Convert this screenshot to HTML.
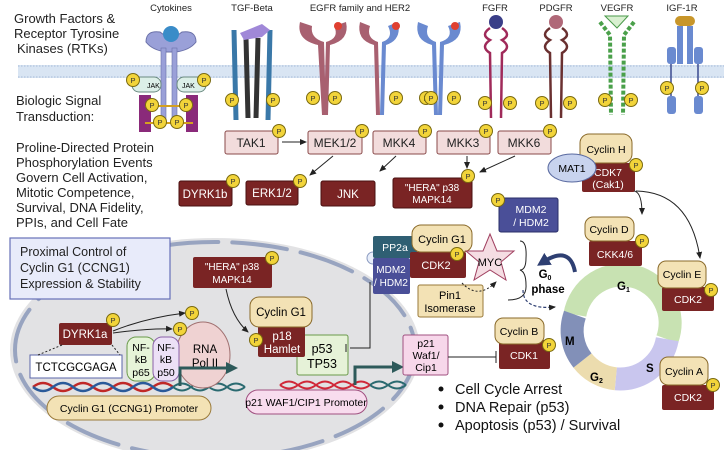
<!DOCTYPE html><html><head><meta charset="utf-8"><style>body{margin:0;background:#fff}svg{display:block}text{font-family:"Liberation Sans",sans-serif}</style></head><body>
<svg width="724" height="450" viewBox="0 0 724 450" xmlns="http://www.w3.org/2000/svg">
<defs>
<marker id="a" markerUnits="userSpaceOnUse" markerWidth="8" markerHeight="8" refX="6" refY="4" orient="auto"><path d="M0,1 L7,4 L0,7z" fill="#222"/></marker>
<marker id="t" markerUnits="userSpaceOnUse" markerWidth="14" markerHeight="14" refX="6" refY="7" orient="auto"><path d="M0,1 L12,7 L0,13z" fill="#2d5a5a"/></marker>
<marker id="n" markerUnits="userSpaceOnUse" markerWidth="14" markerHeight="14" refX="6" refY="7" orient="auto"><path d="M0,0 L13,7 L0,14z" fill="#2e3f72"/></marker>
<g id="P"><circle r="6.5" fill="#f2d43a" stroke="#7a6a10" stroke-width="1"/><text y="3" font-size="7.5" text-anchor="middle" fill="#333">P</text></g>
</defs>
<rect x="18" y="65" width="706" height="13" fill="#d9e5f3"/>
<line x1="18" y1="66" x2="724" y2="66" stroke="#a8bcd8" stroke-dasharray="1.5 1.5"/>
<line x1="18" y1="77" x2="724" y2="77" stroke="#a8bcd8" stroke-dasharray="1.5 1.5"/>
<g font-size="13" fill="#222">
<text x="14" y="23">Growth Factors &amp;</text><text x="14" y="38">Receptor Tyrosine</text><text x="17" y="53">Kinases (RTKs)</text>
<text x="16" y="105">Biologic Signal</text><text x="16" y="121">Transduction:</text>
<text x="16" y="152">Proline-Directed Protein</text><text x="16" y="167">Phosphorylation Events</text><text x="16" y="182">Govern Cell Activation,</text><text x="16" y="197">Mitotic Competence,</text><text x="16" y="212">Survival, DNA Fidelity,</text><text x="16" y="227">PPIs, and Cell Fate</text>
</g>
<g font-size="9.5" fill="#222" text-anchor="middle">
<text x="171" y="11">Cytokines</text><text x="252" y="11">TGF-Beta</text><text x="360" y="11">EGFR family and HER2</text><text x="495" y="11">FGFR</text><text x="556" y="11">PDGFR</text><text x="617" y="11">VEGFR</text><text x="682" y="11">IGF-1R</text>
</g>
<path d="M146,42 Q146,30 160,32 L171,40 L182,32 Q196,30 196,42 Q190,50 176,52 L166,52 Q152,50 146,42z" fill="#9aa0d8" stroke="#6a70a8"/>
<rect x="161" y="48" width="5" height="75" fill="#9aa0d8" stroke="#6a70a8" stroke-width=".6"/><rect x="172" y="48" width="5" height="75" fill="#9aa0d8" stroke="#6a70a8" stroke-width=".6"/>
<circle cx="171" cy="34" r="8" fill="#3a8cc8"/>
<rect x="132" y="77" width="29" height="15" rx="7" fill="#dcefe8" stroke="#6a8a80"/><text x="147" y="88" font-size="7">JAK</text>
<rect x="177" y="77" width="29" height="15" rx="7" fill="#dcefe8" stroke="#6a8a80"/><text x="182" y="88" font-size="7">JAK</text>
<rect x="139" y="95" width="12" height="37" fill="#8a2a7a"/><rect x="186" y="95" width="12" height="37" fill="#8a2a7a"/>
<rect x="145" y="105" width="48" height="2" fill="#d4a020"/><rect x="145" y="122" width="48" height="2" fill="#d4a020"/>
<use href="#P" x="133" y="80"/><use href="#P" x="204" y="80"/><use href="#P" x="152" y="105"/><use href="#P" x="186" y="105"/><use href="#P" x="160" y="122"/><use href="#P" x="177" y="122"/>
<path d="M234,30 L236,120 M270,30 L268,120" stroke="#3a78a8" stroke-width="5" fill="none"/>
<path d="M246,38 L248,118 M258,38 L256,118" stroke="#333" stroke-width="5" fill="none"/>
<path d="M240,33 L262,24 L270,30 L262,37 L244,40z" fill="#a088d8"/>
<use href="#P" x="232" y="100"/><use href="#P" x="273" y="100"/>
<g fill="#a86070"><path d="M300,22 Q296,40 318,45 L322,115 L326,115 L324,42 Q310,38 312,26z"/><path d="M346,22 Q350,40 330,45 L328,115 L324,115 L326,42 Q340,38 334,26z"/></g>
<circle cx="338" cy="26" r="4" fill="#e04030"/>
<g fill="#a86070"><path d="M360,22 Q356,40 374,45 L376,115 L380,115 L378,42 Q366,38 370,26z"/></g>
<g fill="#6a8ad0"><path d="M398,22 Q402,40 386,45 L384,115 L380,115 L382,42 Q394,38 388,26z"/><path d="M418,22 Q414,40 432,45 L434,115 L438,115 L436,42 Q424,38 428,26z"/><path d="M460,22 Q464,40 444,45 L442,115 L438,115 L440,42 Q454,38 448,26z"/></g>
<circle cx="396" cy="26" r="4" fill="#e04030"/><circle cx="455" cy="26" r="4" fill="#e04030"/>
<use href="#P" x="313" y="98"/><use href="#P" x="335" y="98"/><use href="#P" x="396" y="98"/><use href="#P" x="426" y="98"/><use href="#P" x="431" y="98"/><use href="#P" x="454" y="98"/>
<circle cx="496" cy="22" r="7" fill="#3a3e88"/>
<path d="M490,28 Q480,35 490,40 Q480,47 490,53 L491,118 M502,28 Q512,35 502,40 Q512,47 502,53 L501,118" stroke="#a02a5a" stroke-width="2.5" fill="none"/>
<use href="#P" x="485" y="103"/><use href="#P" x="510" y="103"/>
<circle cx="556" cy="22" r="7" fill="#b06878"/>
<path d="M550,28 Q540,35 550,40 Q540,47 550,53 L551,118 M562,28 Q572,35 562,40 Q572,47 562,53 L561,118" stroke="#6a3030" stroke-width="2.5" fill="none"/>
<use href="#P" x="542" y="103"/><use href="#P" x="570" y="103"/>
<path d="M605,16 L628,16 L617,28z" fill="#d8f0d0" stroke="#4a9a4a"/>
<path d="M600,22 L610,35 L611,115 M634,22 L624,35 L623,115" stroke="#4aa04a" stroke-width="4" stroke-dasharray="4 2" fill="none"/>
<use href="#P" x="605" y="100"/><use href="#P" x="631" y="100"/>
<rect x="675" y="16" width="20" height="10" rx="5" fill="#c8962a"/>
<rect x="677" y="26" width="6" height="38" fill="#6a8ad0"/><rect x="687" y="26" width="6" height="38" fill="#6a8ad0"/>
<rect x="667" y="47" width="9" height="17" rx="3" fill="#6a8ad0"/><rect x="694" y="47" width="9" height="17" rx="3" fill="#6a8ad0"/>
<path d="M671,64 L671,98 M698,64 L698,98" stroke="#3a4a90" stroke-width="1.5"/>
<rect x="667" y="96" width="9" height="18" rx="3" fill="#6a8ad0"/><rect x="694" y="96" width="9" height="18" rx="3" fill="#6a8ad0"/>
<use href="#P" x="667" y="88"/><use href="#P" x="702" y="88"/>
<g fill="#f2dcdc" stroke="#8a4a4a"><rect x="225" y="131" width="53" height="23" rx="2"/><rect x="308" y="131" width="54" height="23" rx="2"/><rect x="373" y="131" width="53" height="23" rx="2"/><rect x="437" y="131" width="53" height="23" rx="2"/><rect x="498" y="131" width="53" height="23" rx="2"/></g>
<g font-size="12" fill="#222" text-anchor="middle"><text x="251" y="147">TAK1</text><text x="335" y="147">MEK1/2</text><text x="399" y="147">MKK4</text><text x="463" y="147">MKK3</text><text x="524" y="147">MKK6</text></g>
<use href="#P" x="279" y="131"/><use href="#P" x="362" y="131"/><use href="#P" x="425" y="131"/><use href="#P" x="486" y="131"/><use href="#P" x="550" y="131"/>
<g stroke="#222" fill="none" marker-end="url(#a)" stroke-width="1"><line x1="282" y1="142" x2="306" y2="142"/><line x1="333" y1="156" x2="310" y2="175"/><line x1="396" y1="156" x2="380" y2="171"/><line x1="467" y1="156" x2="467" y2="168"/><line x1="515" y1="156" x2="480" y2="172"/></g>
<g fill="#7a2424" stroke="#4a1010"><rect x="179" y="181" width="53" height="25" rx="2"/><rect x="246" y="181" width="52" height="24" rx="2"/><rect x="321" y="181" width="54" height="25" rx="2"/><rect x="393" y="178" width="79" height="30" rx="2"/></g>
<g font-size="11.5" fill="#fff" text-anchor="middle"><text x="205" y="198">DYRK1b</text><text x="272" y="197">ERK1/2</text><text x="348" y="198">JNK</text><text x="432" y="191" font-size="10">"HERA" p38</text><text x="432" y="203" font-size="10">MAPK14</text></g>
<use href="#P" x="233" y="181"/><use href="#P" x="300" y="181"/><use href="#P" x="468" y="176"/>
<rect x="499" y="198" width="59" height="34" rx="2" fill="#4a4f98" stroke="#2a2f68"/><text x="531" y="213" font-size="10.5" fill="#fff" text-anchor="middle">MDM2</text><text x="531" y="226" font-size="10.5" fill="#fff" text-anchor="middle">/ HDM2</text><use href="#P" x="498" y="200"/>
<rect x="582" y="163" width="53" height="29" rx="2" fill="#7a2424"/><text x="608" y="176" font-size="10.5" fill="#fff" text-anchor="middle">CDK7</text><text x="608" y="188" font-size="10.5" fill="#fff" text-anchor="middle">(Cak1)</text>
<rect x="580" y="134" width="52" height="29" rx="9" fill="#f3e2b5" stroke="#8a6a2a"/><text x="606" y="153" font-size="10.5" text-anchor="middle">Cyclin H</text>
<ellipse cx="572" cy="168" rx="24" ry="14" fill="#c8d3ee" stroke="#5a6aa0"/><text x="572" y="172" font-size="10.5" text-anchor="middle">MAT1</text>
<use href="#P" x="636" y="165"/>
<path d="M634,191 Q642,192 642,214" stroke="#222" fill="none" marker-end="url(#a)"/>
<path d="M636,191 Q690,192 700,258" stroke="#222" fill="none" marker-end="url(#a)"/>
<ellipse cx="215" cy="350" rx="205" ry="112" fill="#e2e2e4"/>
<ellipse cx="215" cy="350" rx="200" ry="108" fill="none" stroke="#98a4c0" stroke-width="4" stroke-dasharray="55 14" stroke-linecap="round"/>
<rect x="10" y="238" width="160" height="61" fill="#e8ebfa" stroke="#6670b8" stroke-width="1.2"/>
<g font-size="12.5" fill="#222"><text x="20" y="256">Proximal Control of</text><text x="20" y="272">Cyclin G1 (CCNG1)</text><text x="20" y="288">Expression &amp; Stability</text></g>
<rect x="193" y="257" width="79" height="31" rx="2" fill="#7a2424"/><text x="232" y="270" font-size="10" fill="#fff" text-anchor="middle">"HERA" p38</text><text x="232" y="283" font-size="10" fill="#fff" text-anchor="middle">MAPK14</text><use href="#P" x="272" y="258"/>
<path d="M226,289 Q232,318 248,332" stroke="#222" fill="none" marker-end="url(#a)"/>
<path d="M33,387 q10,-8 20,0 t20,0 t20,0 t20,0 t20,0 t20,0 t20,0" stroke="#c02828" stroke-width="2.5" fill="none"/>
<path d="M33,387 q10,8 20,0 t20,0 t20,0 t20,0 t20,0 t20,0 t20,0" stroke="#2a5a9a" stroke-width="2.5" fill="none"/>
<path d="M173,387 q9,-7 18,0 t18,0 t18,0 t18,0 M173,387 q9,7 18,0 t18,0 t18,0 t18,0" stroke="#2a6a70" stroke-width="2" fill="none"/>
<path d="M280,385 q9,-7 18,0 t18,0 t18,0 t18,0 t18,0 M280,385 q9,7 18,0 t18,0 t18,0 t18,0 t18,0" stroke="#d02838" stroke-width="2" fill="none"/>
<path d="M370,385 q9,-7 18,0 t18,0 M370,385 q9,7 18,0 t18,0" stroke="#2a6a70" stroke-width="2" fill="none"/>
<rect x="47" y="396" width="164" height="24" rx="12" fill="#f3e2b5" stroke="#9a7a3a"/><text x="129" y="412" font-size="10.5" text-anchor="middle">Cyclin G1 (CCNG1) Promoter</text>
<rect x="246" y="390" width="121" height="24" rx="12" fill="#f8dcee" stroke="#a05080"/><text x="306" y="406" font-size="10.5" text-anchor="middle">p21 WAF1/CIP1 Promoter</text>
<ellipse cx="203" cy="355" rx="27" ry="33" fill="#efd2d2" stroke="#a07070"/><text x="205" y="353" font-size="11.5" text-anchor="middle">RNA</text><text x="205" y="367" font-size="11.5" text-anchor="middle">Pol II</text>
<rect x="127" y="337" width="28" height="44" rx="9" fill="#e6f4d8" stroke="#6a9a4a"/><rect x="153" y="337" width="26" height="44" rx="9" fill="#ece0f6" stroke="#8a60a8"/>
<g font-size="10.5" text-anchor="middle"><text x="141" y="351">NF-</text><text x="141" y="363">kB</text><text x="141" y="376">p65</text><text x="166" y="351">NF-</text><text x="166" y="363">kB</text><text x="166" y="376">p50</text></g>
<path d="M180,386 L180,368 L232,368" stroke="#2d5a5a" stroke-width="3" fill="none" marker-end="url(#t)"/>
<rect x="30" y="355" width="92" height="23" fill="#fff" stroke="#5a64a8"/><text x="76" y="371" font-size="11.5" text-anchor="middle">TCTCGCGAGA</text>
<rect x="59" y="323" width="53" height="22" rx="2" fill="#7a2424"/><text x="85" y="338" font-size="11.5" fill="#fff" text-anchor="middle">DYRK1a</text><use href="#P" x="113" y="320"/>
<path d="M62,345 L38,355 M112,345 L120,355" stroke="#222" stroke-dasharray="2 2"/>
<path d="M113,331 Q145,318 185,313" stroke="#222" fill="none" marker-end="url(#a)"/><path d="M113,333 Q150,328 172,329" stroke="#222" fill="none" marker-end="url(#a)"/>
<use href="#P" x="192" y="313"/><use href="#P" x="180" y="329"/>
<rect x="297" y="335" width="51" height="40" rx="2" fill="#e6f2d8" stroke="#6a9a4a"/><text x="322" y="353" font-size="12.5" text-anchor="middle">p53</text><text x="322" y="368" font-size="12.5" text-anchor="middle">TP53</text>
<rect x="258" y="326" width="47" height="31" rx="2" fill="#7a2424"/><text x="282" y="340" font-size="11.5" fill="#fff" text-anchor="middle">p18</text><text x="282" y="353" font-size="11.5" fill="#fff" text-anchor="middle">Hamlet</text>
<rect x="250" y="297" width="62" height="30" rx="9" fill="#f3e2b5" stroke="#8a6a2a"/><text x="281" y="316" font-size="11.5" text-anchor="middle">Cyclin G1</text>
<use href="#P" x="256" y="340"/>
<path d="M355,385 L355,367 L398,367" stroke="#2d5a5a" stroke-width="3" fill="none" marker-end="url(#t)"/>
<path d="M350,348 L370,348 L370,282" stroke="#222" fill="none"/><line x1="346" y1="344" x2="346" y2="352" stroke="#222"/>
<circle cx="373" cy="258" r="6" fill="#e8eefa" stroke="#8a9ac0"/>
<rect x="373" y="258" width="37" height="36" rx="2" fill="#4a4f98"/><text x="391" y="273" font-size="10" fill="#fff" text-anchor="middle">MDM2</text><text x="391" y="286" font-size="10" fill="#fff" text-anchor="middle">/ HDM2</text>
<rect x="373" y="236" width="44" height="22" rx="2" fill="#2f5f73"/><text x="395" y="251" font-size="10.5" fill="#fff" text-anchor="middle">PP2a</text>
<rect x="410" y="252" width="56" height="26" rx="2" fill="#7a2424"/><text x="436" y="269" font-size="11" fill="#fff" text-anchor="middle">CDK2</text>
<rect x="412" y="225" width="60" height="27" rx="9" fill="#f3e2b5" stroke="#8a6a2a"/><text x="442" y="243" font-size="11" text-anchor="middle">Cyclin G1</text>
<path d="M490,234 L497,251 L514,251 L501,262 L506,280 L490,270 L474,280 L479,262 L466,251 L483,251z" fill="#f5dde3" stroke="#a04060"/>
<use href="#P" x="457" y="254"/>
<text x="490" y="266" font-size="11" text-anchor="middle">MYC</text>
<rect x="418" y="285" width="65" height="32" rx="2" fill="#f3e2b5" stroke="#9a7a3a"/><text x="450" y="299" font-size="11" text-anchor="middle">Pin1</text><text x="450" y="312" font-size="11" text-anchor="middle">Isomerase</text>
<path d="M462,283 Q478,300 496,282" stroke="#222" fill="none" stroke-dasharray="2 2" marker-end="url(#a)"/>
<path d="M520,241 Q527,241 526,258 Q526,270 520,270 Q526,272 526,285 Q527,300 508,300" stroke="#222" fill="none"/>
<text x="545" y="278" font-size="11.5" font-weight="bold" text-anchor="middle">G<tspan font-size="7" dy="2">0</tspan></text>
<text x="548" y="293" font-size="11.5" font-weight="bold" text-anchor="middle">phase</text>
<path d="M575,272 Q570,245 543,262" stroke="#2e3f72" stroke-width="4" fill="none" marker-end="url(#n)"/>
<path d="M523,290 Q523,310 555,307" stroke="#2e3f72" stroke-width="1.2" fill="none" stroke-dasharray="3 2" marker-end="url(#a)"/>
<g fill="none" stroke-width="23">
<path d="M574.9,314.6 A48,48 0 1 1 667.3,339.3" stroke="#c8e2b2"/>
<path d="M667.3,339.3 A48,48 0 0 1 615.8,378.8" stroke="#c9c6ee"/>
<path d="M615.8,378.8 A48,48 0 0 1 582.5,360.5" stroke="#ecdcae"/>
<path d="M582.5,360.5 A48,48 0 0 1 574.9,314.6" stroke="#8290b8"/>
</g>
<g font-size="11.5" font-weight="bold"><text x="617" y="290">G<tspan font-size="7" dy="2">1</tspan></text><text x="646" y="372">S</text><text x="590" y="381">G<tspan font-size="7" dy="2">2</tspan></text><text x="565" y="345">M</text></g>
<rect x="589" y="241" width="53" height="25" rx="2" fill="#7a2424"/><text x="615" y="258" font-size="10.5" fill="#fff" text-anchor="middle">CKK4/6</text>
<rect x="585" y="217" width="49" height="24" rx="8" fill="#f3e2b5" stroke="#8a6a2a"/><text x="609" y="233" font-size="10.5" text-anchor="middle">Cyclin D</text><use href="#P" x="642" y="241"/>
<rect x="662" y="287" width="52" height="24" rx="2" fill="#7a2424"/><text x="688" y="303" font-size="10.5" fill="#fff" text-anchor="middle">CDK2</text>
<rect x="658" y="261" width="48" height="27" rx="8" fill="#f3e2b5" stroke="#8a6a2a"/><text x="682" y="278" font-size="10.5" text-anchor="middle">Cyclin E</text><use href="#P" x="711" y="290"/>
<rect x="662" y="385" width="52" height="25" rx="2" fill="#7a2424"/><text x="688" y="401" font-size="10.5" fill="#fff" text-anchor="middle">CDK2</text>
<rect x="660" y="357" width="48" height="28" rx="8" fill="#f3e2b5" stroke="#8a6a2a"/><text x="684" y="375" font-size="10.5" text-anchor="middle">Cyclin A</text><use href="#P" x="713" y="385"/>
<rect x="499" y="340" width="51" height="29" rx="2" fill="#7a2424"/><text x="524" y="359" font-size="10.5" fill="#fff" text-anchor="middle">CDK1</text>
<rect x="495" y="318" width="49" height="26" rx="8" fill="#f3e2b5" stroke="#8a6a2a"/><text x="519" y="335" font-size="10.5" text-anchor="middle">Cyclin B</text><use href="#P" x="549" y="345"/>
<rect x="403" y="335" width="45" height="40" rx="2" fill="#f7d7ea" stroke="#a05080"/>
<g font-size="10.5" text-anchor="middle"><text x="426" y="347">p21</text><text x="426" y="359">Waf1/</text><text x="426" y="371">Cip1</text></g>
<line x1="448" y1="357" x2="496" y2="357" stroke="#222"/><line x1="496" y1="351" x2="496" y2="363" stroke="#222"/>
<g font-size="14.5" fill="#111"><circle cx="441" cy="389" r="2.5"/><circle cx="441" cy="407" r="2.5"/><circle cx="441" cy="425" r="2.5"/>
<text x="455" y="394">Cell Cycle Arrest</text><text x="455" y="412">DNA Repair (p53)</text><text x="455" y="430">Apoptosis (p53) / Survival</text></g>
</svg></body></html>
